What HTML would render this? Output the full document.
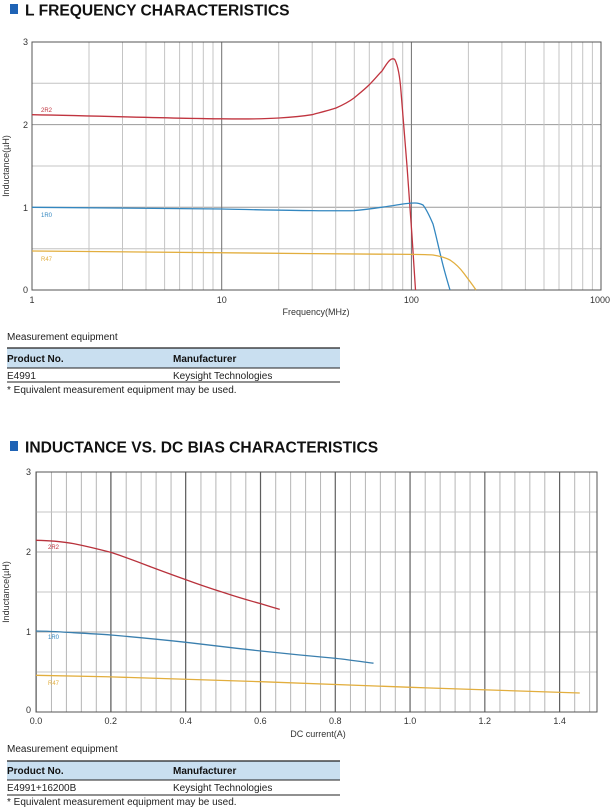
<!DOCTYPE html>
<html><head><meta charset="utf-8"><style>
body{margin:0;background:#fff;width:614px;height:812px;overflow:hidden;font-family:"Liberation Sans",Arial,sans-serif}
svg{position:absolute;left:0;top:0}
</style></head><body>
<svg width="614" height="812" viewBox="0 0 614 812" xmlns="http://www.w3.org/2000/svg" font-family="Liberation Sans, Arial, sans-serif">
<defs>
<pattern id="p2" x="36" y="0" width="14.95" height="812" patternUnits="userSpaceOnUse"><line x1="0.5" y1="0" x2="0.5" y2="812" stroke="#b5b5b5" stroke-width="1"/></pattern>
</defs>
<rect x="10" y="4" width="8" height="10" fill="#1f63b5"/>
<text x="25" y="15.5" font-size="15.6" font-weight="bold" fill="#111">L FREQUENCY CHARACTERISTICS</text>

<g stroke="#c4c4c4" stroke-width="1">
<line x1="32" y1="83.3" x2="601" y2="83.3"/><line x1="32" y1="166" x2="601" y2="166"/><line x1="32" y1="248.7" x2="601" y2="248.7"/>
</g>
<g stroke="#9a9a9a" stroke-width="1">
<line x1="32" y1="124.6" x2="601" y2="124.6"/><line x1="32" y1="207.3" x2="601" y2="207.3"/>
</g>
<g stroke="#c4c4c4" stroke-width="1">
<line x1="89" y1="42" x2="89" y2="290"/><line x1="122.5" y1="42" x2="122.5" y2="290"/><line x1="146" y1="42" x2="146" y2="290"/><line x1="164.6" y1="42" x2="164.6" y2="290"/><line x1="179.6" y1="42" x2="179.6" y2="290"/><line x1="192.3" y1="42" x2="192.3" y2="290"/><line x1="203.3" y1="42" x2="203.3" y2="290"/><line x1="213" y1="42" x2="213" y2="290"/>
<line x1="278.7" y1="42" x2="278.7" y2="290"/><line x1="312.2" y1="42" x2="312.2" y2="290"/><line x1="335.7" y1="42" x2="335.7" y2="290"/><line x1="354.3" y1="42" x2="354.3" y2="290"/><line x1="369.3" y1="42" x2="369.3" y2="290"/><line x1="382" y1="42" x2="382" y2="290"/><line x1="393" y1="42" x2="393" y2="290"/><line x1="402.7" y1="42" x2="402.7" y2="290"/>
<line x1="468.4" y1="42" x2="468.4" y2="290"/><line x1="501.9" y1="42" x2="501.9" y2="290"/><line x1="525.4" y1="42" x2="525.4" y2="290"/><line x1="544" y1="42" x2="544" y2="290"/><line x1="559" y1="42" x2="559" y2="290"/><line x1="571.7" y1="42" x2="571.7" y2="290"/><line x1="582.7" y1="42" x2="582.7" y2="290"/><line x1="592.4" y1="42" x2="592.4" y2="290"/>
</g>
<g stroke="#707070" stroke-width="1">
<line x1="221.7" y1="42" x2="221.7" y2="290"/><line x1="411.4" y1="42" x2="411.4" y2="290"/>
</g>
<rect x="32" y="42" width="569" height="248" fill="none" stroke="#555" stroke-width="1"/>

<path d="M32,114.7 C120,116.5 180,118.5 221.7,118.8 C250,119.2 270,118.6 279,118 C295,117 305,115.8 312,114.7 C322,112 330,110 336,108 C345,104 350,101 354,98 C360,93 365,89 369,85 C375,79 378,75 382,71 C386,65 388,61 391,59.3 C393,58.5 394.5,59 395,60 C398,66 400,78 401,91.5 C403,115 405,140 407,166 C410,205 413,250 415.5,290" fill="none" stroke="#c0343f" stroke-width="1.3"/>
<path d="M32,207.3 C120,208 180,208.5 221.7,209 C260,209.8 290,210.6 312,210.6 C330,210.8 345,210.8 354,210.6 C370,209.5 382,207 393,205.6 C402,204 410,203 415,203 C419,203 421,204 423,205 C427,210 430,217 433,224 C436,235 438,245 441,257 C444,270 447,280 450,290" fill="none" stroke="#3387c0" stroke-width="1.3"/>
<path d="M32,251 C150,252 250,253 312,253.6 C360,254 390,254.2 411,254.4 C420,254.5 428,254.6 433,255 C440,256 445,257.5 450,260 C456,264 460,268 464,273.5 C468,279 472,284 476,290" fill="none" stroke="#e2ae3e" stroke-width="1.3"/>
<g font-size="6" >
<text x="41" y="112" fill="#c0343f">2R2</text>
<text x="41" y="217" fill="#3387c0">1R0</text>
<text x="41" y="261" fill="#e2ae3e">R47</text>
</g>
<g font-size="9" fill="#333">
<text x="23" y="45">3</text><text x="23" y="128">2</text><text x="23" y="211">1</text><text x="23" y="293">0</text>
<text x="32" y="303" text-anchor="middle">1</text><text x="221.7" y="303" text-anchor="middle">10</text><text x="411.4" y="303" text-anchor="middle">100</text><text x="600" y="303" text-anchor="middle">1000</text>
<text x="316" y="315" text-anchor="middle">Frequency(MHz)</text>
<text transform="translate(9,166) rotate(-90)" text-anchor="middle">Inductance(µH)</text>
</g>
<text x="7" y="340" font-size="10" fill="#222">Measurement equipment</text>
<rect x="7" y="348" width="333" height="20" fill="#c9dff0"/>
<line x1="7" y1="348" x2="340" y2="348" stroke="#222" stroke-width="1.2"/>
<line x1="7" y1="368" x2="340" y2="368" stroke="#222" stroke-width="1"/>
<line x1="7" y1="382" x2="340" y2="382" stroke="#222" stroke-width="1"/>
<text x="7" y="362" font-size="10" font-weight="bold" fill="#111">Product No.</text>
<text x="173" y="362" font-size="10" font-weight="bold" fill="#111">Manufacturer</text>
<text x="7" y="379" font-size="10" fill="#222">E4991</text>
<text x="173" y="379" font-size="10" fill="#222">Keysight Technologies</text>
<text x="7" y="393" font-size="10" fill="#222">* Equivalent measurement equipment may be used.</text>

<rect x="10" y="441" width="8" height="10" fill="#1f63b5"/>
<text x="25" y="452.5" font-size="15.6" font-weight="bold" fill="#111">INDUCTANCE VS. DC BIAS CHARACTERISTICS</text>

<rect x="36" y="472" width="561" height="240" fill="url(#p2)"/>
<g stroke="#c4c4c4" stroke-width="1">
<line x1="36" y1="512" x2="597" y2="512"/><line x1="36" y1="592" x2="597" y2="592"/><line x1="36" y1="672" x2="597" y2="672"/>
</g>
<g stroke="#a8a8a8" stroke-width="1">
<line x1="36" y1="552" x2="597" y2="552"/><line x1="36" y1="632" x2="597" y2="632"/>
</g>
<g stroke="#555" stroke-width="1">
<line x1="110.8" y1="472" x2="110.8" y2="712"/><line x1="185.6" y1="472" x2="185.6" y2="712"/><line x1="260.4" y1="472" x2="260.4" y2="712"/><line x1="335.2" y1="472" x2="335.2" y2="712"/><line x1="410" y1="472" x2="410" y2="712"/><line x1="484.8" y1="472" x2="484.8" y2="712"/><line x1="559.6" y1="472" x2="559.6" y2="712"/>
</g>
<rect x="36" y="472" width="561" height="240" fill="none" stroke="#555" stroke-width="1"/>
<path d="M36,540.3 C45,540.5 50,540.8 54.75,541.2 C62,542 68,542.7 73.5,543.6 C88,546.5 100,549.5 111,552.4 C125,557 137,561.5 148.5,566 C162,571 174,575.5 186,579.7 C199,584.5 211,588.5 223.5,592.5 C237,597 249,600.5 261,603.8 C268,606 274,607.8 279.75,609.4" fill="none" stroke="#b8323c" stroke-width="1.3"/>
<path d="M36,631 C50,631.2 62,632 73.5,632.7 C88,633.5 100,634.2 111,635 C137,637.3 160,639.5 186,642.3 C212,645.5 236,648.3 261,651 C287,653.8 310,656 336,658.4 C350,660 362,661.7 373.5,663.2" fill="none" stroke="#3a7fae" stroke-width="1.3"/>
<path d="M36,675.3 C70,675.8 90,676.3 111,676.9 C160,678.5 210,680 261,681.7 C310,683.5 360,685.4 411,687.3 C470,689.5 530,691.3 579.75,693" fill="none" stroke="#e2ae3e" stroke-width="1.3"/>
<g font-size="6">
<text x="48" y="549" fill="#c0343f">2R2</text>
<text x="48" y="639" fill="#3387c0">1R0</text>
<text x="48" y="685" fill="#e2ae3e">R47</text>
</g>
<g font-size="9" fill="#333">
<text x="26" y="475">3</text><text x="26" y="555">2</text><text x="26" y="635">1</text><text x="26" y="713">0</text>
<text x="36" y="724" text-anchor="middle">0.0</text><text x="110.8" y="724" text-anchor="middle">0.2</text><text x="185.6" y="724" text-anchor="middle">0.4</text><text x="260.4" y="724" text-anchor="middle">0.6</text><text x="335.2" y="724" text-anchor="middle">0.8</text><text x="410" y="724" text-anchor="middle">1.0</text><text x="484.8" y="724" text-anchor="middle">1.2</text><text x="559.6" y="724" text-anchor="middle">1.4</text>
<text x="318" y="737" text-anchor="middle">DC current(A)</text>
<text transform="translate(9,592) rotate(-90)" text-anchor="middle">Inductance(µH)</text>
</g>
<text x="7" y="752" font-size="10" fill="#222">Measurement equipment</text>
<rect x="7" y="761" width="333" height="19" fill="#c9dff0"/>
<line x1="7" y1="761" x2="340" y2="761" stroke="#222" stroke-width="1.2"/>
<line x1="7" y1="780" x2="340" y2="780" stroke="#222" stroke-width="1"/>
<line x1="7" y1="795" x2="340" y2="795" stroke="#222" stroke-width="1"/>
<text x="7" y="774" font-size="10" font-weight="bold" fill="#111">Product No.</text>
<text x="173" y="774" font-size="10" font-weight="bold" fill="#111">Manufacturer</text>
<text x="7" y="791" font-size="10" fill="#222">E4991+16200B</text>
<text x="173" y="791" font-size="10" fill="#222">Keysight Technologies</text>
<text x="7" y="805" font-size="10" fill="#222">* Equivalent measurement equipment may be used.</text>
</svg>
</body></html>
